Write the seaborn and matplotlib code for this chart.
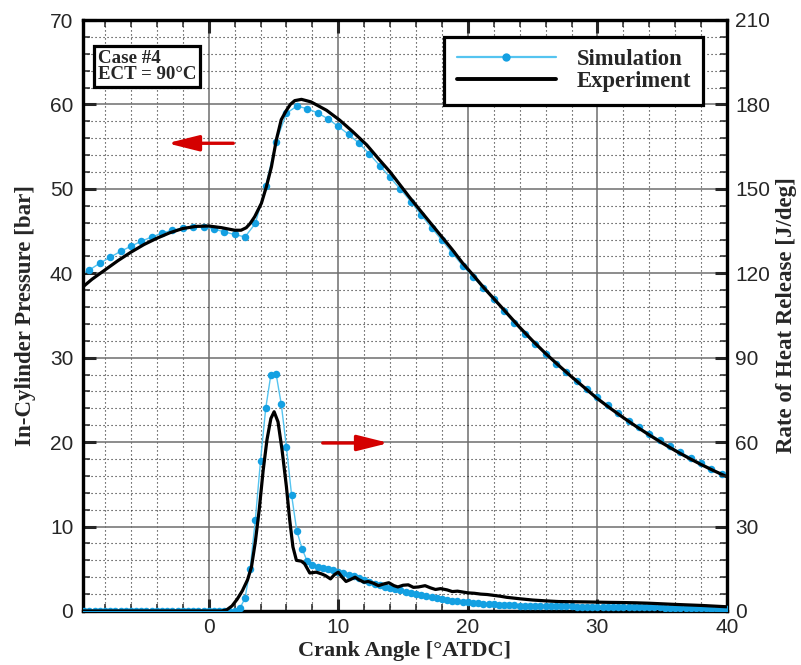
import numpy as np
import pandas as pd
import matplotlib
matplotlib.use("Agg")
import matplotlib.pyplot as plt
from matplotlib.lines import Line2D
from matplotlib.ticker import MultipleLocator
import seaborn as sns

# ---------------- data ----------------
# Simulated cylinder pressure [bar], sampled every 0.8 deg from -10 to 39.6 deg ATDC
sim_p_angle = np.linspace(-10.0, 39.6, 63)
sim_pressure = [
    39.7, 40.4, 41.2, 41.9, 42.6, 43.2, 43.8, 44.3, 44.75, 45.1, 45.35, 45.5, 45.5,
    45.25, 44.9, 44.6, 44.3, 45.9, 50.3, 55.6, 58.95, 59.8, 59.5, 59.0, 58.3, 57.4,
    56.45, 55.4, 54.15, 52.75, 51.35, 49.95, 48.5, 46.9, 45.4, 43.9, 42.4, 40.9, 39.6,
    38.2, 36.9, 35.5, 34.1, 32.8, 31.6, 30.45, 29.3, 28.25, 27.25, 26.25, 25.3, 24.35,
    23.4, 22.55, 21.75, 21.0, 20.25, 19.5, 18.8, 18.15, 17.5, 16.85, 16.25,
]

# Measured cylinder pressure [bar]
exp_p_angle = [
    -9.7, -9.0, -8.0, -7.0, -6.0, -5.0, -4.0, -3.0, -2.0, -1.0, 0.0, 0.5, 1.0, 1.5,
    2.0, 2.5, 2.9, 3.2, 3.55, 4.07, 4.45, 4.84, 5.22, 5.6, 6.0, 6.3, 6.64, 7.16, 7.9,
    9.1, 10.1, 11.1, 12.2, 13.2, 14.0, 14.75, 15.5, 16.4, 17.2, 18.0, 18.8, 19.6, 20.4,
    21.2, 22.0, 23.0, 24.0, 25.0, 26.0, 27.0, 28.0, 29.0, 30.0, 31.0, 32.0, 33.0, 34.0,
    35.0, 36.0, 37.0, 38.0, 39.0, 40.0,
]
exp_pressure = [
    38.4, 39.3, 40.4, 41.5, 42.5, 43.4, 44.15, 44.8, 45.3, 45.55, 45.6, 45.5, 45.4, 45.25,
    45.1, 45.1, 45.4, 45.9, 46.7, 48.3, 50.25, 52.6, 55.8, 58.2, 59.3, 60.0, 60.45, 60.6, 60.3,
    59.3, 58.15, 56.8, 55.2, 53.4, 52.0, 50.5, 49.0, 47.3, 45.8, 44.3, 42.8, 41.2, 39.8,
    38.35, 37.0, 35.3, 33.6, 32.0, 30.5, 29.1, 27.75, 26.45, 25.15, 24.0, 22.9, 21.85, 20.85,
    19.9, 19.0, 18.15, 17.35, 16.6, 15.9,
]

# Simulated rate of heat release [J/deg], sampled every 0.4 deg from -10 to 40 deg ATDC
sim_hrr_angle = np.linspace(-10.0, 40.0, 126)
sim_hrr = [0.0] * 31 + [
    0.9, 4.5, 15.0, 32.4, 53.4, 72.0, 84.0, 84.3, 73.5, 58.2, 41.1, 28.5, 22.2, 17.7,
    16.2, 15.75, 15.3, 14.85, 14.4, 13.95, 13.5, 12.9, 12.3, 11.7, 10.95, 10.35, 9.75,
    9.2, 8.7, 8.25, 7.8, 7.35, 6.9, 6.45, 6.0, 5.65, 5.25, 4.85, 4.5, 4.2, 3.9, 3.65,
    3.45, 3.25, 3.05, 2.9, 2.75, 2.6, 2.5, 2.4, 2.25, 2.15, 2.05, 2.0, 1.95, 1.9, 1.85,
    1.8, 1.77, 1.74, 1.71, 1.68, 1.66, 1.63, 1.6, 1.58, 1.56, 1.54, 1.52, 1.5, 1.48,
    1.46, 1.44, 1.42, 1.4, 1.38, 1.36, 1.34, 1.32, 1.3, 1.28, 1.25, 1.22, 1.19, 1.16,
    1.12, 1.08, 1.04, 1.0, 0.95, 0.9, 0.85, 0.8, 0.72, 0.65,
]

# Measured rate of heat release [J/deg]
exp_hrr_angle = [
    -9.7, 1.0, 1.4, 1.8, 2.2, 2.6, 3.0, 3.3, 3.6, 3.9, 4.2, 4.5, 4.8, 5.05, 5.35, 5.66,
    6.0, 6.25, 6.5, 6.77, 7.15, 7.4, 7.8, 8.3, 8.7, 9.0, 9.4, 9.7, 10.0, 10.3, 10.6, 10.9,
    11.3, 11.6, 12.0, 12.3, 12.7, 13.1, 13.5, 13.9, 14.3, 14.6, 15.0, 15.4, 15.8, 16.2,
    16.7, 17.1, 17.5, 17.9, 18.4, 18.8, 19.2, 19.6, 20.0, 20.5, 21.0, 21.5, 22.0, 22.5,
    23.0, 24.0, 25.0, 26.0, 27.0, 28.0, 29.0, 30.0, 31.0, 32.0, 33.0, 34.0, 35.0, 36.0,
    37.0, 38.0, 39.0, 40.0,
]
exp_hrr = [
    0.0, 0.0, 0.45, 1.8, 4.2, 7.2, 11.1, 15.6, 24.6, 36.0, 49.8, 60.9, 68.4, 70.8, 67.2,
    57.3, 44.1, 32.4, 22.8, 18.0, 17.7, 16.8, 13.5, 13.8, 13.2, 12.6, 11.4, 12.9, 13.8,
    12.0, 10.5, 11.1, 12.0, 11.1, 10.2, 10.5, 9.9, 9.0, 9.6, 10.05, 9.0, 8.55, 9.15, 9.3,
    8.4, 8.55, 9.0, 8.25, 7.65, 7.95, 7.5, 6.9, 7.05, 6.75, 6.45, 6.3, 6.0, 5.85, 5.55,
    5.25, 4.86, 4.35, 3.9, 3.6, 3.36, 3.3, 3.24, 3.15, 3.06, 3.0, 2.91, 2.76, 2.55, 2.34,
    2.16, 1.98, 1.74, 1.5,
]

legend_labels = ["Simulation", "Experiment"]
case_text = "Case #4\nECT = 90\u00b0C"
x_label = "Crank Angle [\u00b0ATDC]"
y_label_left = "In-Cylinder Pressure [bar]"
y_label_right = "Rate of Heat Release [J/deg]"

sim_p_df = pd.DataFrame({"angle": sim_p_angle, "value": sim_pressure})
exp_p_df = pd.DataFrame({"angle": exp_p_angle, "value": exp_pressure})
sim_h_df = pd.DataFrame({"angle": sim_hrr_angle, "value": sim_hrr})
exp_h_df = pd.DataFrame({"angle": exp_hrr_angle, "value": exp_hrr})

# ---------------- style ----------------
sns.set_style("ticks")
plt.rcParams["font.family"] = ["Liberation Sans", "DejaVu Sans"]
SERIF = ["Liberation Serif", "DejaVu Serif"]

SIM_LINE = "#55c4f0"
SIM_DOT = "#14a0e2"
RED = "#d40000"

fig = plt.figure(figsize=(8.01, 6.65), dpi=100)
ax = fig.add_axes([83 / 801, 54 / 665, 644 / 801, 591 / 665])
ax2 = ax.twinx()

# pressure (left axis)
sns.lineplot(data=sim_p_df, x="angle", y="value", ax=ax, estimator=None,
             color=SIM_LINE, linewidth=1.0, marker="o", markersize=5.4,
             markerfacecolor=SIM_DOT, markeredgewidth=0, zorder=3)
sns.lineplot(data=exp_p_df, x="angle", y="value", ax=ax, estimator=None,
             color="black", linewidth=2.3, zorder=4)

# heat release (right axis)
sns.lineplot(data=sim_h_df, x="angle", y="value", ax=ax2, estimator=None,
             color=SIM_LINE, linewidth=1.0, marker="o", markersize=5.4,
             markerfacecolor=SIM_DOT, markeredgewidth=0, zorder=3)
sns.lineplot(data=exp_h_df, x="angle", y="value", ax=ax2, estimator=None,
             color="black", linewidth=2.3, zorder=4)

ax.set_xlim(-9.7, 40)
ax.set_ylim(0, 70)
ax2.set_ylim(0, 210)

ax.xaxis.set_major_locator(MultipleLocator(10))
ax.xaxis.set_minor_locator(MultipleLocator(2))
ax.yaxis.set_major_locator(MultipleLocator(10))
ax.yaxis.set_minor_locator(MultipleLocator(2))
ax2.yaxis.set_major_locator(MultipleLocator(30))
ax2.yaxis.set_minor_locator(MultipleLocator(6))

# grid: solid grey majors, dotted minors
ax.grid(which="major", color="#6e6e6e", linewidth=1.1, linestyle="-", zorder=0)
ax.grid(which="minor", color="#222222", linewidth=0.8, linestyle=(0, (1, 2.6)), zorder=0)
ax.set_axisbelow(True)

for a in (ax, ax2):
    for s in a.spines.values():
        s.set_linewidth(2.3)
        s.set_color("black")
        s.set_visible(True)

ax.tick_params(which="major", direction="in", length=9, width=2.2, top=True,
               right=False, labelsize=15, pad=7)
ax.tick_params(which="minor", direction="in", length=5, width=1.1, top=True,
               right=False)
ax.tick_params(axis="x", pad=5)
ax2.tick_params(which="major", direction="in", length=9, width=2.2, labelsize=15, pad=6)
ax2.tick_params(which="minor", direction="in", length=5, width=1.1)

ax.set_xlabel(x_label, family=SERIF, fontweight="bold", fontsize=16, labelpad=3)
ax.set_ylabel(y_label_left, family=SERIF, fontweight="bold", fontsize=16.5, labelpad=10)
ax2.set_ylabel(y_label_right, family=SERIF, fontweight="bold", fontsize=16.5, labelpad=4)

# direction arrows
arrow_kw = dict(arrowstyle="-|>,head_length=1.0,head_width=0.25", color=RED,
                lw=2.4, mutation_scale=19, shrinkA=0, shrinkB=0)
ax.annotate("", xy=(-3.2, 55.4), xytext=(1.9, 55.4), arrowprops=arrow_kw, zorder=6)
ax.annotate("", xy=(13.9, 19.9), xytext=(8.8, 19.9), arrowprops=arrow_kw, zorder=6)

# case annotation box
ax2.text(0.0235, 0.950, case_text, transform=ax2.transAxes, ha="left", va="top",
         family=SERIF, fontweight="bold", fontsize=13.6, linespacing=0.95, zorder=10,
         bbox=dict(boxstyle="square,pad=0.2", facecolor="white", edgecolor="black",
                   linewidth=2.3))

# legend
handles = [
    Line2D([], [], color=SIM_LINE, linewidth=1.6, marker="o", markersize=6,
           markerfacecolor=SIM_DOT, markeredgewidth=0),
    Line2D([], [], color="black", linewidth=2.8),
]
leg = ax2.legend(handles, legend_labels, loc="upper right",
                 bbox_to_anchor=(0.9635, 0.972), numpoints=1, handlelength=4.4,
                 handletextpad=0.9, fancybox=False, framealpha=1, borderpad=0.55,
                 labelspacing=0.05, borderaxespad=0.0,
                 prop={"family": SERIF, "weight": "bold", "size": 16.3})
leg.get_frame().set_edgecolor("black")
leg.get_frame().set_linewidth(2.3)
leg.set_zorder(10)

fig.savefig("out.png", dpi=100)
